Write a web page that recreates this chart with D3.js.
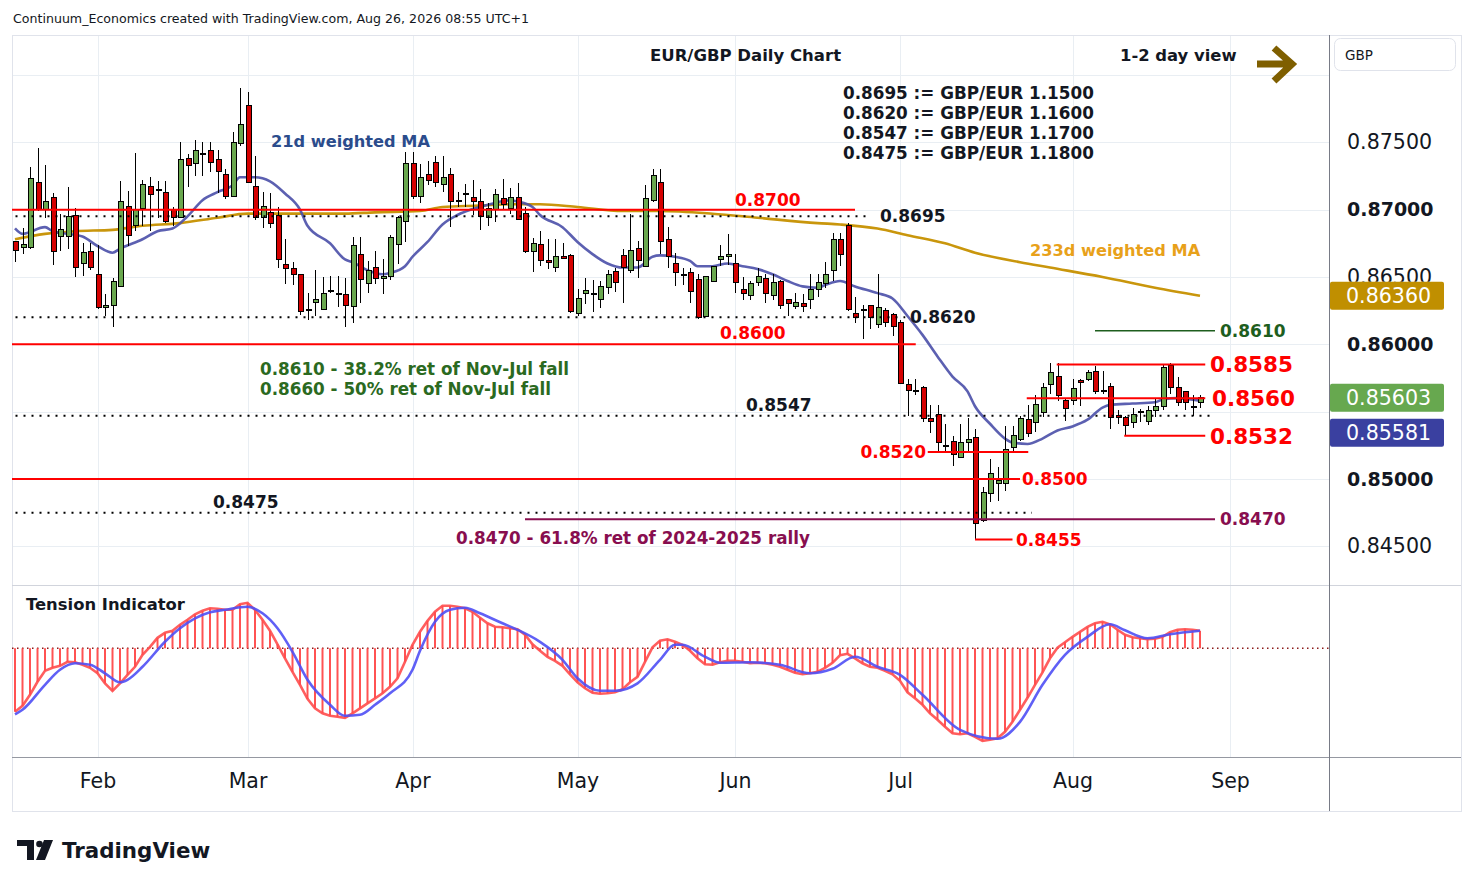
<!DOCTYPE html>
<html>
<head>
<meta charset="utf-8">
<script src="https://cdnjs.cloudflare.com/ajax/libs/d3/7.8.5/d3.min.js"></script>
<style>
  body { margin: 0; background: #fff; }
  text { font-family: "DejaVu Sans", Verdana, sans-serif; }
</style>
</head>
<body>
<svg id="chart" width="1474" height="887"></svg>
<script>
'use strict';

// ---- data (EUR/GBP daily, first bar Fri 16 Jan 2026, last bar Wed 26 Aug 2026) ----
const firstBar = Date.UTC(2026, 0, 16);

const open = [
  0.8676,0.8672,0.8672,0.8720,0.8700,0.8709,0.8680,0.8680,0.8696,0.8660,
  0.8669,0.8652,0.8627,0.8629,0.8643,0.8702,0.8688,0.8701,0.8717,0.8715,
  0.8713,0.8700,0.8694,0.8738,0.8734,0.8742,0.8744,0.8737,0.8726,0.8710,
  0.8749,0.8777,0.8717,0.8694,0.8698,0.8696,0.8659,0.8656,0.8652,0.8626,
  0.8631,0.8626,0.8639,0.8638,0.8637,0.8628,0.8667,0.8645,0.8657,0.8649,
  0.8650,0.8674,0.8691,0.8734,0.8710,0.8726,0.8735,0.8719,0.8726,0.8706,
  0.8712,0.8709,0.8706,0.8694,0.8700,0.8708,0.8701,0.8709,0.8697,0.8669,
  0.8674,0.8662,0.8657,0.8665,0.8666,0.8623,0.8638,0.8637,0.8633,0.8642,
  0.8654,0.8666,0.8655,0.8671,0.8658,0.8707,0.8720,0.8678,0.8660,0.8652,
  0.8653,0.8648,0.8621,0.8647,0.8663,0.8665,0.8660,0.8641,0.8636,0.8646,
  0.8649,0.8636,0.8647,0.8633,0.8628,0.8630,0.8633,0.8641,0.8645,0.8655,
  0.8678,0.8688,0.8623,0.8626,0.8629,0.8615,0.8625,0.8622,0.8616,0.8570,
  0.8566,0.8568,0.8545,0.8548,0.8525,0.8528,0.8516,0.8527,0.8531,0.8469,
  0.8489,0.8497,0.8497,0.8523,0.8529,0.8544,0.8542,0.8549,0.8570,0.8576,
  0.8558,0.8558,0.8573,0.8574,0.8580,0.8566,0.8569,0.8547,0.8546,0.8542,
  0.8550,0.8543,0.8551,0.8554,0.8584,0.8568,0.8565,0.8554,0.8557
];
const high = [
  0.8677,0.8686,0.8732,0.8746,0.8733,0.8712,0.8697,0.8717,0.8701,0.8675,
  0.8675,0.8674,0.8637,0.8649,0.8721,0.8714,0.8742,0.8722,0.8724,0.8721,
  0.8721,0.8702,0.8750,0.8741,0.8752,0.8750,0.8750,0.8744,0.8730,0.8758,
  0.8790,0.8787,0.8740,0.8713,0.8712,0.8702,0.8678,0.8661,0.8652,0.8638,
  0.8655,0.8650,0.8651,0.8651,0.8649,0.8680,0.8680,0.8662,0.8669,0.8663,
  0.8681,0.8695,0.8743,0.8743,0.8734,0.8736,0.8740,0.8740,0.8731,0.8713,
  0.8719,0.8722,0.8715,0.8705,0.8715,0.8723,0.8716,0.8720,0.8702,0.8679,
  0.8684,0.8678,0.8678,0.8675,0.8667,0.8641,0.8649,0.8648,0.8647,0.8655,
  0.8657,0.8671,0.8697,0.8677,0.8718,0.8730,0.8730,0.8687,0.8668,0.8657,
  0.8657,0.8652,0.8651,0.8658,0.8674,0.8682,0.8667,0.8650,0.8647,0.8657,
  0.8652,0.8652,0.8648,0.8634,0.8638,0.8637,0.8652,0.8652,0.8661,0.8683,
  0.8683,0.8690,0.8635,0.8629,0.8629,0.8652,0.8627,0.8623,0.8618,0.8574,
  0.8574,0.8569,0.8555,0.8555,0.8541,0.8532,0.8541,0.8545,0.8537,0.8494,
  0.8515,0.8509,0.8539,0.8539,0.8547,0.8555,0.8562,0.8571,0.8586,0.8586,
  0.8560,0.8574,0.8574,0.8581,0.8584,0.8580,0.8571,0.8551,0.8547,0.8553,
  0.8552,0.8554,0.8560,0.8585,0.8586,0.8576,0.8565,0.8562,0.8562
];
const low = [
  0.8661,0.8667,0.8671,0.8699,0.8694,0.8659,0.8669,0.8671,0.8650,0.8651,
  0.8655,0.8626,0.8621,0.8613,0.8643,0.8673,0.8684,0.8688,0.8684,0.8694,
  0.8690,0.8688,0.8694,0.8717,0.8725,0.8725,0.8728,0.8712,0.8708,0.8710,
  0.8747,0.8720,0.8692,0.8686,0.8686,0.8657,0.8645,0.8644,0.8622,0.8618,
  0.8621,0.8626,0.8638,0.8628,0.8613,0.8616,0.8631,0.8638,0.8645,0.8637,
  0.8648,0.8660,0.8676,0.8708,0.8705,0.8718,0.8717,0.8713,0.8687,0.8702,
  0.8702,0.8696,0.8685,0.8688,0.8691,0.8700,0.8697,0.8693,0.8668,0.8654,
  0.8658,0.8656,0.8654,0.8663,0.8623,0.8621,0.8630,0.8624,0.8627,0.8637,
  0.8639,0.8631,0.8653,0.8649,0.8658,0.8706,0.8667,0.8657,0.8643,0.8644,
  0.8631,0.8619,0.8621,0.8647,0.8658,0.8659,0.8638,0.8633,0.8633,0.8643,
  0.8631,0.8633,0.8626,0.8621,0.8626,0.8624,0.8626,0.8635,0.8642,0.8647,
  0.8658,0.8625,0.8616,0.8604,0.8611,0.8612,0.8613,0.8606,0.8571,0.8547,
  0.8562,0.8542,0.8534,0.8521,0.8520,0.8510,0.8516,0.8521,0.8455,0.8468,
  0.8483,0.8484,0.8491,0.8521,0.8528,0.8531,0.8535,0.8546,0.8563,0.8558,
  0.8543,0.8555,0.8554,0.8573,0.8563,0.8563,0.8537,0.8541,0.8533,0.8538,
  0.8542,0.8540,0.8546,0.8551,0.8563,0.8554,0.8551,0.8547,0.8553
];
const close = [
  0.8670,0.8674,0.8723,0.8700,0.8706,0.8669,0.8685,0.8695,0.8657,0.8668,
  0.8657,0.8627,0.8629,0.8647,0.8706,0.8681,0.8700,0.8719,0.8711,0.8714,
  0.8691,0.8694,0.8737,0.8733,0.8744,0.8741,0.8735,0.8728,0.8710,0.8750,
  0.8763,0.8720,0.8694,0.8702,0.8690,0.8663,0.8656,0.8652,0.8624,0.8625,
  0.8633,0.8638,0.8640,0.8638,0.8629,0.8673,0.8648,0.8655,0.8649,0.8650,
  0.8679,0.8694,0.8734,0.8710,0.8724,0.8722,0.8720,0.8724,0.8706,0.8707,
  0.8711,0.8706,0.8695,0.8701,0.8711,0.8704,0.8709,0.8693,0.8669,0.8675,
  0.8662,0.8661,0.8665,0.8664,0.8624,0.8634,0.8640,0.8638,0.8643,0.8652,
  0.8646,0.8657,0.8670,0.8662,0.8708,0.8725,0.8676,0.8665,0.8653,0.8651,
  0.8639,0.8620,0.8650,0.8658,0.8665,0.8667,0.8646,0.8638,0.8645,0.8650,
  0.8638,0.8646,0.8629,0.8630,0.8631,0.8628,0.8641,0.8646,0.8652,0.8678,
  0.8667,0.8626,0.8620,0.8626,0.8620,0.8627,0.8616,0.8613,0.8571,0.8566,
  0.8565,0.8545,0.8543,0.8527,0.8525,0.8518,0.8527,0.8529,0.8467,0.8490,
  0.8504,0.8499,0.8522,0.8532,0.8545,0.8534,0.8555,0.8568,0.8579,0.8562,
  0.8552,0.8567,0.8572,0.8579,0.8565,0.8566,0.8546,0.8546,0.8540,0.8548,
  0.8550,0.8551,0.8554,0.8583,0.8568,0.8557,0.8557,0.8554,0.85603
];

// 21d weighted MA, read as [bar, value]
const ma21 = [
  [0,0.8686],[1,0.8682],[4,0.8687],[5,0.8684],[7,0.8682],[9,0.8680],[11,0.8673],
  [13,0.8668],[14,0.8671],[17,0.8678],[19,0.8684],[21,0.8686],[23,0.8695],[25,0.8707],
  [27,0.8713],[29,0.8718],[30,0.8724],[32,0.8724],[34,0.8721],[36,0.8712],[38,0.8700],
  [39,0.8688],[42,0.8675],[44,0.8663],[45,0.8661],[47,0.8655],[49,0.8652],[50,0.8653],
  [52,0.8658],[53,0.8665],[55,0.8676],[57,0.8689],[59,0.8696],[62,0.8702],[64,0.8705],
  [66,0.8707],[67,0.8706],[69,0.8702],[70,0.8696],[73,0.8687],[75,0.8676],[77,0.8667],
  [79,0.8660],[81,0.8657],[83,0.8657],[85,0.8665],[86,0.8666],[88,0.8665],[90,0.8662],
  [91,0.8658],[93,0.8658],[95,0.8660],[97,0.8658],[99,0.8656],[101,0.8652],[103,0.8647],
  [105,0.8643],[107,0.8642],[108,0.8644],[110,0.8647],[112,0.8643],[115,0.8638],
  [117,0.8634],[119,0.8621],[121,0.8607],[123,0.8591],[125,0.8576],[127,0.8565],
  [128,0.8554],[130,0.8541],[132,0.8530],[133,0.8527],[135,0.8526],[137,0.8530],
  [139,0.8536],[141,0.8539],[143,0.8544],[145,0.8553],[146,0.8555],[149,0.8556],
  [152,0.8557],[153,0.8559],[155,0.8560],[158,0.85581]
];
// 233d weighted MA, read as [bar, value]
const ma233 = [
  [0,0.8678],[4,0.8682],[8,0.8684],[13,0.8685],[17,0.8688],[22,0.8690],[27,0.8694],
  [31,0.8697],[35,0.8697],[39,0.8697],[44,0.8697],[48,0.8698],[54,0.8699],[57,0.8702],
  [62,0.8703],[66,0.8704],[70,0.8704],[75,0.8702],[81,0.8699],[86,0.8699],[93,0.8697],
  [99,0.8694],[107,0.8690],[110,0.8689],[115,0.8686],[119,0.8681],[124,0.8675],
  [128,0.8668],[134,0.8661],[138,0.8657],[145,0.8650],[152,0.8642],[158,0.8636]
];

// Tension indicator: fast (red, one per bar) and signal (blue, [bar, value])
const tensionFast = [
  -1.27,-1.15,-0.93,-0.67,-0.45,-0.39,-0.35,-0.27,-0.28,-0.33,
  -0.39,-0.50,-0.70,-0.85,-0.70,-0.53,-0.37,-0.13,0.03,0.21,
  0.31,0.35,0.47,0.57,0.68,0.75,0.80,0.79,0.77,0.77,
  0.88,0.91,0.77,0.57,0.35,0.08,-0.20,-0.47,-0.73,-1.01,
  -1.20,-1.30,-1.35,-1.37,-1.39,-1.30,-1.20,-1.10,-1.00,-0.90,
  -0.77,-0.60,-0.27,0.07,0.33,0.55,0.73,0.85,0.85,0.83,
  0.80,0.73,0.61,0.50,0.43,0.42,0.40,0.38,0.27,0.08,
  -0.05,-0.17,-0.25,-0.35,-0.52,-0.68,-0.80,-0.89,-0.91,-0.90,
  -0.88,-0.82,-0.68,-0.57,-0.27,0.02,0.15,0.18,0.13,0.07,
  -0.05,-0.20,-0.32,-0.33,-0.28,-0.25,-0.25,-0.27,-0.30,-0.29,
  -0.30,-0.33,-0.37,-0.43,-0.49,-0.52,-0.50,-0.47,-0.39,-0.29,
  -0.14,-0.11,-0.20,-0.30,-0.37,-0.39,-0.45,-0.52,-0.65,-0.88,
  -1.00,-1.13,-1.30,-1.43,-1.57,-1.70,-1.72,-1.70,-1.77,-1.85,
  -1.83,-1.80,-1.67,-1.47,-1.23,-0.99,-0.73,-0.48,-0.20,0.01,
  0.12,0.23,0.33,0.43,0.50,0.53,0.48,0.37,0.27,0.22,
  0.20,0.18,0.19,0.23,0.32,0.37,0.38,0.37,0.35
];
const tensionSignal = [
  [0,-1.32],[1,-1.23],[4,-0.73],[6,-0.43],[8,-0.30],[10,-0.33],[12,-0.50],[14,-0.68],
  [15,-0.63],[17,-0.37],[20,0.13],[22,0.40],[26,0.72],[28,0.77],[31,0.83],[33,0.70],
  [35,0.40],[37,-0.07],[39,-0.63],[42,-1.13],[44,-1.35],[46,-1.33],[48,-1.13],[50,-0.90],
  [53,-0.43],[54,-0.05],[56,0.53],[58,0.77],[60,0.81],[62,0.70],[65,0.50],[67,0.37],
  [70,0.13],[73,-0.23],[75,-0.60],[78,-0.85],[80,-0.85],[83,-0.70],[86,-0.23],[88,0.07],
  [89,0.07],[92,-0.17],[94,-0.29],[98,-0.28],[102,-0.33],[106,-0.50],[109,-0.41],
  [112,-0.17],[115,-0.37],[118,-0.53],[121,-0.93],[126,-1.63],[131,-1.81],[134,-1.47],
  [137,-0.73],[140,-0.13],[143,0.23],[146,0.48],[148,0.36],[151,0.20],[154,0.28],[158,0.35]
];

const priceTicks = [0.845, 0.850, 0.860, 0.865, 0.870, 0.875];
const redLevels = [0.8700, 0.8600, 0.8585, 0.8560, 0.8532, 0.8520, 0.8500, 0.8455];
const dottedLevels = [0.8695, 0.8620, 0.8547, 0.8475];
const gbpEur = [1.1500, 1.1600, 1.1700, 1.1800];
const fibLevels = [0.8610, 0.8470];

// ---- scales ----
const svg = d3.select('#chart');
const padL = 12, axisX = 1329, padR = 1461;
const paneTop = 35, paneBottom = 585, indBottom = 757, frameBottom = 811;

const x = d3.scaleLinear().domain([-0.4, 175.2]).range([padL, axisX]);
const y = d3.scaleLinear().domain([0.845, 0.875]).range([546.3, 142.3]);
const yT = d3.scaleLinear().domain([-2, 1]).range([748.3, 598.3]);

const days = d3.utcDays(new Date(firstBar), new Date(Date.UTC(2026, 9, 1)))
  .filter(d => d.getUTCDay() % 6 !== 0);
const monthIdx = d3.utcMonths(new Date(Date.UTC(2026, 1, 1)), new Date(Date.UTC(2026, 8, 2)))
  .map(m => d3.bisectLeft(days, m));

const RED = '#ff0000', GREEN_C = '#6aa84f', RED_C = '#d50000';

// last value tags (positions needed for the axis clip)
const last = close.length - 1;
const tagH = 28;
const tagMa233 = y(ma233[ma233.length - 1][1]);
const tagClose = y(close[last]);
const tagMa21 = Math.max(y(ma21[ma21.length - 1][1]), tagClose + 35);

const defs = svg.append('defs');
defs.append('clipPath').attr('id', 'pricePane')
  .append('rect').attr('x', padL).attr('y', paneTop).attr('width', axisX - padL).attr('height', paneBottom - paneTop);
defs.append('clipPath').attr('id', 'indPane')
  .append('rect').attr('x', padL).attr('y', paneBottom + 1).attr('width', axisX - padL).attr('height', indBottom - paneBottom - 1);
// axis labels are hidden where a value tag sits over them
const axisClip = defs.append('clipPath').attr('id', 'axisClip');
[[0, tagMa233 - tagH / 2], [tagMa233 + tagH / 2, tagClose - tagH / 2], [tagMa21 + tagH / 2, 900]]
  .forEach(([a, b]) => axisClip.append('rect').attr('x', 0).attr('y', a).attr('width', 200).attr('height', b - a));

// ---- header ----
svg.append('text').attr('x', 13).attr('y', 19).attr('dy', '0.35em')
  .attr('font-size', 12.6).attr('fill', '#131722')
  .text('Continuum_Economics created with TradingView.com, Aug 26, 2026 08:55 UTC+1');

// ---- grid ----
const grid = svg.append('g').attr('stroke', '#e9eef3').attr('stroke-width', 1);
grid.selectAll('line.h').data(d3.range(0.845, 0.8801, 0.005)).join('line')
  .attr('x1', padL).attr('x2', axisX)
  .attr('y1', d => Math.round(y(d)) + 0.5).attr('y2', d => Math.round(y(d)) + 0.5);
grid.selectAll('line.v').data(monthIdx).join('line')
  .attr('x1', d => Math.round(x(d)) + 0.5).attr('x2', d => Math.round(x(d)) + 0.5)
  .attr('y1', paneTop).attr('y2', indBottom);

// ---- frame ----
const frame = svg.append('g').attr('fill', 'none');
frame.append('rect').attr('x', padL + 0.5).attr('y', paneTop + 0.5)
  .attr('width', padR - padL).attr('height', frameBottom - paneTop).attr('stroke', '#e0e3eb');
frame.append('line').attr('x1', padL).attr('x2', padR).attr('y1', paneBottom + 0.5).attr('y2', paneBottom + 0.5)
  .attr('stroke', '#d1d4dc');
frame.append('line').attr('x1', padL).attr('x2', padR).attr('y1', indBottom + 0.5).attr('y2', indBottom + 0.5)
  .attr('stroke', '#9598a1');
frame.append('line').attr('x1', axisX + 0.5).attr('x2', axisX + 0.5).attr('y1', paneTop).attr('y2', frameBottom)
  .attr('stroke', '#787b86');

// ---- price pane ----
const pane = svg.append('g').attr('clip-path', 'url(#pricePane)');

const maLine = d3.line().x(d => x(d[0])).y(d => y(d[1])).curve(d3.curveMonotoneX);
pane.append('path').datum(ma233).attr('d', maLine)
  .attr('fill', 'none').attr('stroke', '#c9960c').attr('stroke-width', 2.6);
pane.append('path').datum(ma21).attr('d', maLine)
  .attr('fill', 'none').attr('stroke', '#4a4fa8').attr('stroke-width', 2.6).attr('stroke-opacity', 0.9);

const bars = d3.range(close.length);
const candles = pane.append('g').attr('shape-rendering', 'crispEdges');
candles.selectAll('line').data(bars).join('line')
  .attr('x1', i => Math.round(x(i)) + 0.5).attr('x2', i => Math.round(x(i)) + 0.5)
  .attr('y1', i => y(high[i])).attr('y2', i => y(low[i]))
  .attr('stroke', '#000').attr('stroke-width', 1);
candles.selectAll('rect').data(bars).join('rect')
  .attr('x', i => Math.round(x(i)) - 2)
  .attr('width', 5)
  .attr('y', i => y(Math.max(open[i], close[i])))
  .attr('height', i => Math.max(1, y(Math.min(open[i], close[i])) - y(Math.max(open[i], close[i]))))
  .attr('fill', i => close[i] >= open[i] ? GREEN_C : RED_C)
  .attr('stroke', '#000').attr('stroke-width', 1);

// horizontal levels: [price, fromBar, toBar]
const solidSpans = [
  [redLevels[0], -1, 112], [redLevels[1], -1, 120.1], [redLevels[2], 138.9, 158.7],
  [redLevels[3], 134.9, 158.7], [redLevels[4], 147.9, 158.7], [redLevels[5], 121.7, 135.1],
  [redLevels[6], -1, 134], [redLevels[7], 128, 133]
];
pane.append('g').selectAll('line').data(solidSpans).join('line')
  .attr('x1', d => x(d[1])).attr('x2', d => x(d[2]))
  .attr('y1', d => y(d[0])).attr('y2', d => y(d[0]))
  .attr('stroke', RED).attr('stroke-width', 2);

const dotSpans = [
  [dottedLevels[0], -1, 114], [dottedLevels[1], -1, 118.7],
  [dottedLevels[2], -1, 159.3], [dottedLevels[3], -1, 135.6]
];
pane.append('g').selectAll('line').data(dotSpans).join('line')
  .attr('x1', d => x(d[1])).attr('x2', d => x(d[2]))
  .attr('y1', d => y(d[0])).attr('y2', d => y(d[0]))
  .attr('stroke', '#000').attr('stroke-width', 2).attr('stroke-dasharray', '2 6');

pane.append('line').attr('x1', x(144)).attr('x2', x(160))
  .attr('y1', y(fibLevels[0])).attr('y2', y(fibLevels[0]))
  .attr('stroke', '#1e5e1e').attr('stroke-width', 1.5);
pane.append('line').attr('x1', x(68)).attr('x2', x(160))
  .attr('y1', y(fibLevels[1])).attr('y2', y(fibLevels[1]))
  .attr('stroke', '#880e4f').attr('stroke-width', 2);

// ---- annotations ----
const ann = svg.append('g').attr('font-weight', 'bold');
function label(txt, px, py, size, color, anchor) {
  ann.append('text').attr('x', px).attr('y', py).attr('dy', '0.36em')
    .attr('font-size', size).attr('fill', color).attr('text-anchor', anchor || 'start').text(txt);
}
const f4 = d3.format('.4f');

label(f4(redLevels[0]), 735, y(redLevels[0]) - 10, 17, RED);
label(f4(redLevels[1]), 720, y(redLevels[1]) - 11, 17, RED);
label(f4(redLevels[2]), 1210, y(redLevels[2]), 21.5, RED);
label(f4(redLevels[3]), 1212, y(redLevels[3]), 21.5, RED);
label(f4(redLevels[4]), 1210, y(redLevels[4]), 21.5, RED);
label(f4(redLevels[5]), 926, y(redLevels[5]), 17, RED, 'end');
label(f4(redLevels[6]), 1022, y(redLevels[6]), 17, RED);
label(f4(redLevels[7]), 1016, y(redLevels[7]), 17, RED);

label(f4(dottedLevels[0]), 880, y(dottedLevels[0]), 17, '#131722');
label(f4(dottedLevels[1]), 910, y(dottedLevels[1]), 17, '#131722');
label(f4(dottedLevels[2]), 746, y(dottedLevels[2]) - 11, 17, '#131722');
label(f4(dottedLevels[3]), 213, y(dottedLevels[3]) - 11, 17, '#131722');

label(f4(fibLevels[0]), 1220, y(fibLevels[0]), 17, '#1e5e1e');
label(f4(fibLevels[1]), 1220, y(fibLevels[1]), 17, '#880e4f');
label('0.8610 - 38.2% ret of Nov-Jul fall', 260, 369, 16.8, '#2b6a1f');
label('0.8660 - 50% ret of Nov-Jul fall', 260, 389, 16.8, '#2b6a1f');
label('0.8470 - 61.8% ret of 2024-2025 rally', 456, 538, 16.8, '#880e4f');

label('21d weighted MA', 271, 141, 16.2, '#2b4c8c');
label('233d weighted MA', 1030, 250, 16.2, '#e8a11a');

label('EUR/GBP Daily Chart', 650, 55, 16.5, '#131722');
label('1-2 day view', 1120, 55, 16.4, '#131722');
dottedLevels.forEach((p, k) => {
  label(f4(p) + ' := GBP/EUR ' + f4(gbpEur[k]), 843, 93 + 20 * k, 16.8, '#131722');
});

svg.append('path').attr('d', 'M1257,64 L1291,64 M1274,48 L1292,64 L1274,81')
  .attr('fill', 'none').attr('stroke', '#7f5f00').attr('stroke-width', 7)
  .attr('stroke-linejoin', 'miter').attr('stroke-linecap', 'butt');

// ---- tension indicator ----
const ind = svg.append('g').attr('clip-path', 'url(#indPane)');
ind.append('line').attr('x1', padL).attr('x2', axisX)
  .attr('y1', yT(0)).attr('y2', yT(0))
  .attr('stroke', '#8b1a1a').attr('stroke-width', 1.5).attr('stroke-dasharray', '1.5 3.5');
ind.append('g').selectAll('line').data(bars).join('line')
  .attr('x1', i => x(i)).attr('x2', i => x(i))
  .attr('y1', yT(0)).attr('y2', i => yT(tensionFast[i]))
  .attr('stroke', '#ff5252').attr('stroke-width', 2);
ind.append('path').datum(bars)
  .attr('d', d3.line().x(i => x(i)).y(i => yT(tensionFast[i])))
  .attr('fill', 'none').attr('stroke', '#ff4d4d').attr('stroke-width', 2.6).attr('stroke-opacity', 0.9);
ind.append('path').datum(tensionSignal)
  .attr('d', d3.line().x(d => x(d[0])).y(d => yT(d[1])).curve(d3.curveMonotoneX))
  .attr('fill', 'none').attr('stroke', '#4f4ff5').attr('stroke-width', 2.6).attr('stroke-opacity', 0.9);
svg.append('text').attr('x', 26).attr('y', 604).attr('dy', '0.36em')
  .attr('font-size', 16.4).attr('font-weight', 'bold').attr('fill', '#131722')
  .text('Tension Indicator');

// ---- axes ----
const priceAxis = svg.append('g').attr('transform', 'translate(1347,0)')
  .attr('clip-path', 'url(#axisClip)')
  .call(d3.axisRight(y).tickValues(priceTicks).tickSize(0).tickPadding(0).tickFormat(d3.format('.5f')));
priceAxis.select('.domain').remove();
priceAxis.selectAll('text')
  .attr('font-family', '"DejaVu Sans", Verdana, sans-serif')
  .attr('fill', '#131722')
  .attr('font-size', d => Math.abs(d * 100 - Math.round(d * 100)) < 1e-6 ? 19 : 20.6)
  .attr('font-weight', d => Math.abs(d * 100 - Math.round(d * 100)) < 1e-6 ? 'bold' : 'normal');

const timeAxis = svg.append('g').attr('transform', `translate(0,${indBottom})`)
  .call(d3.axisBottom(x).tickValues(monthIdx).tickSize(0).tickPadding(0)
    .tickFormat(i => d3.utcFormat('%b')(days[i])));
timeAxis.select('.domain').remove();
timeAxis.selectAll('text')
  .attr('y', 24).attr('dy', '0.36em')
  .attr('font-family', '"DejaVu Sans", Verdana, sans-serif')
  .attr('font-size', 20.5).attr('fill', '#131722');

// currency box
svg.append('rect').attr('x', 1334.5).attr('y', 38.5).attr('width', 121).attr('height', 32).attr('rx', 6)
  .attr('fill', '#fff').attr('stroke', '#e0e3eb');
svg.append('text').attr('x', 1345).attr('y', 55).attr('dy', '0.36em')
  .attr('font-size', 13.5).attr('fill', '#131722').text('GBP');

const fmt5 = d3.format('.5f');
[[tagMa233, ma233[ma233.length - 1][1], '#c08f00'],
 [tagClose, close[last], '#67a84f'],
 [tagMa21, ma21[ma21.length - 1][1], '#3a40a0']].forEach(([ty, v, col]) => {
  svg.append('rect').attr('x', axisX + 1).attr('y', ty - tagH / 2).attr('width', 114).attr('height', tagH)
    .attr('rx', 2).attr('fill', col);
  svg.append('text').attr('x', 1346).attr('y', ty).attr('dy', '0.36em')
    .attr('font-size', 20.6).attr('fill', '#fff').text(fmt5(v));
});

// ---- TradingView logo ----
const logo = svg.append('g').attr('fill', '#131722');
logo.append('path').attr('d', 'M17,840 H34 V860 H27 V846 H17 Z');
logo.append('circle').attr('cx', 39.5).attr('cy', 844).attr('r', 3.3);
logo.append('path').attr('d', 'M44,840 H53 L45,860 H36 Z');
logo.append('text').attr('x', 62).attr('y', 850).attr('dy', '0.36em')
  .attr('font-size', 21.4).attr('font-weight', 'bold').text('TradingView');
</script>
</body>
</html>
